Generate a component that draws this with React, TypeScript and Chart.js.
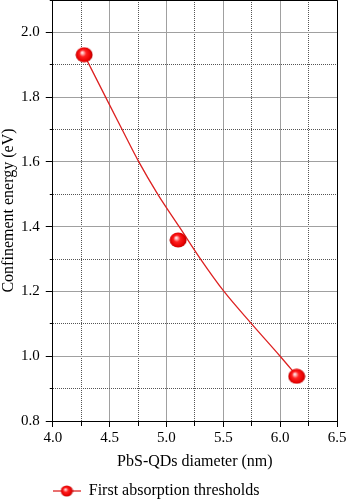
import React, { useEffect, useRef } from 'react';
import { Chart, registerables } from 'chart.js';

Chart.register(...registerables);

// ---- data ----
const diameters = [4.276, 5.103, 6.145];
const energies = [1.931, 1.359, 0.938];

// points of the drawn fit curve
const fitDiameters = [4.276, 4.465, 4.61, 4.757, 4.924, 5.112, 5.3, 5.506, 5.749, 6.0, 6.145];
const fitEnergies = [1.931, 1.8, 1.7, 1.6, 1.5, 1.4, 1.3, 1.2, 1.1, 1.0, 0.94];

const seriesLabel = 'First absorption thresholds';
const xTitle = 'PbS-QDs diameter (nm)';
const yTitle = 'Confinement energy (eV)';

const xRange = [4.0, 6.5];
const xStep = 0.25;
const yRange = [0.8, 2.1];
const yStep = 0.1;

const FONT = "'Liberation Serif', 'DejaVu Serif', serif";
const LINE_RED = '#dd2222';

function makeSphere(w: number, h: number): HTMLCanvasElement {
  const c = document.createElement('canvas');
  c.width = w;
  c.height = h;
  const g = c.getContext('2d')!;
  const cx = w / 2;
  const cy = h / 2;
  const rx = w / 2 - 0.5;
  const ry = h / 2 - 0.5;
  const grad = g.createRadialGradient(cx - rx * 0.25, cy - ry * 0.3, 0, cx, cy, Math.max(rx, ry));
  grad.addColorStop(0, '#ffffff');
  grad.addColorStop(0.15, '#ffb4b4');
  grad.addColorStop(0.4, '#ff2020');
  grad.addColorStop(0.8, '#e80000');
  grad.addColorStop(1, '#b00000');
  g.fillStyle = grad;
  g.beginPath();
  g.ellipse(cx, cy, rx, ry, 0, 0, Math.PI * 2);
  g.fill();
  return c;
}

function makeLegendSymbol(): HTMLCanvasElement {
  const c = document.createElement('canvas');
  c.width = 28;
  c.height = 12;
  const g = c.getContext('2d')!;
  g.strokeStyle = LINE_RED;
  g.lineWidth = 1.3;
  g.beginPath();
  g.moveTo(0, 6);
  g.lineTo(28, 6);
  g.stroke();
  const s = makeSphere(13, 12);
  g.drawImage(s, 14 - 6.5, 0);
  return c;
}

const isMajorX = (v: number) => Math.abs(v * 2 - Math.round(v * 2)) < 1e-6;
const isMajorY = (v: number) => Math.round(v * 10) % 2 === 0;

const framePlugin = {
  id: 'frame',
  beforeDatasetsDraw(chart: any) {
    const { ctx, chartArea } = chart;
    const a = (p: number) => Math.round(p - 0.5) + 0.5;
    ctx.save();
    ctx.strokeStyle = '#000';
    ctx.lineWidth = 1;
    ctx.setLineDash([]);
    ctx.beginPath();
    ctx.moveTo(a(chartArea.left), a(chartArea.top));
    ctx.lineTo(a(chartArea.right), a(chartArea.top));
    ctx.lineTo(a(chartArea.right), a(chartArea.bottom));
    ctx.stroke();
    ctx.restore();
  },
};

const legendPlacePlugin = {
  id: 'legendPlace',
  afterLayout(chart: any) {
    const lg = chart.legend;
    if (!lg) return;
    const pad = lg.options.labels.padding || 0;
    const w = lg.right - lg.left;
    lg.left = chart.chartArea.left - pad;
    lg.right = lg.left + w;
    lg.top += 9;
    lg.bottom += 9;
  },
};

export default function App() {
  const ref = useRef<HTMLCanvasElement>(null);

  useEffect(() => {
    document.body.style.margin = '0';
    if (!ref.current) return;
    const sphere = makeSphere(18, 16);
    const legendImg = makeLegendSymbol();

    const chart = new Chart(ref.current, {
      type: 'scatter',
      data: {
        datasets: [
          {
            label: seriesLabel,
            data: diameters.map((x, i) => ({ x, y: energies[i] })),
            pointStyle: sphere as any,
            pointRadius: 8,
            showLine: false,
            order: 0,
          },
          {
            label: 'fit',
            data: fitDiameters.map((x, i) => ({ x, y: fitEnergies[i] })),
            showLine: true,
            borderColor: LINE_RED,
            backgroundColor: LINE_RED,
            borderWidth: 1.3,
            pointRadius: 0,
            pointHoverRadius: 0,
            cubicInterpolationMode: 'monotone',
            fill: false,
            order: 1,
          } as any,
        ],
      },
      plugins: [framePlugin, legendPlacePlugin],
      options: {
        animation: false,
        responsive: true,
        maintainAspectRatio: false,
        events: [],
        layout: { autoPadding: false, padding: { left: 0, right: 9, top: 0, bottom: 0 } },
        plugins: {
          tooltip: { enabled: false },
          legend: {
            position: 'bottom',
            align: 'start',
            labels: {
              usePointStyle: true,
              pointStyleWidth: 28,
              padding: 4,
              color: '#000',
              font: { family: FONT, size: 16, lineHeight: 1 },
              generateLabels: () => [
                {
                  text: seriesLabel,
                  pointStyle: legendImg as any,
                  fillStyle: LINE_RED,
                  strokeStyle: LINE_RED,
                  lineWidth: 0,
                  hidden: false,
                  datasetIndex: 0,
                  fontColor: '#000',
                } as any,
              ],
            },
          },
        },
        scales: {
          x: {
            type: 'linear',
            min: xRange[0],
            max: xRange[1],
            afterFit: (s: any) => {
              s.paddingRight = 0;
            },
            ticks: {
              stepSize: xStep,
              precision: 2,
              autoSkip: false,
              maxRotation: 0,
              padding: 4,
              color: '#000',
              font: { family: FONT, size: 15, lineHeight: 1 },
              callback: (v: any) => (isMajorX(Number(v)) ? Number(v).toFixed(1) : ''),
            },
            grid: {
              color: (c: any) => (c.tick && !isMajorX(c.tick.value) ? '#555555' : '#a0a0a0'),
              lineWidth: 1,
              tickLength: 6,
              tickColor: '#000',
              tickWidth: 1,
              tickBorderDash: (c: any) => (c.tick && !isMajorX(c.tick.value) ? [4, 10] : []),
            },
            border: {
              color: '#000',
              width: 1,
              dash: (c: any) => (c.tick && !isMajorX(c.tick.value) ? [1, 1] : []),
            },
            title: {
              display: true,
              text: xTitle,
              color: '#000',
              font: { family: FONT, size: 16, lineHeight: 1 },
              padding: { top: 4, bottom: 0 },
            },
          },
          y: {
            type: 'linear',
            min: yRange[0],
            max: yRange[1],
            afterFit: (s: any) => {
              s.paddingTop = 0;
              s.paddingBottom = 0;
            },
            ticks: {
              stepSize: yStep,
              precision: 2,
              autoSkip: false,
              padding: 6,
              color: '#000',
              font: { family: FONT, size: 15, lineHeight: 1 },
              callback: (v: any) => (isMajorY(Number(v)) ? Number(v).toFixed(1) : ''),
            },
            grid: {
              color: (c: any) => (c.tick && !isMajorY(c.tick.value) ? '#555555' : '#a0a0a0'),
              lineWidth: 1,
              tickLength: 7,
              tickColor: '#000',
              tickWidth: 1,
              tickBorderDash: (c: any) => (c.tick && !isMajorY(c.tick.value) ? [3, 4] : []),
              tickBorderDashOffset: (c: any) => (c.tick && !isMajorY(c.tick.value) ? 3 : 0),
            },
            border: {
              color: '#000',
              width: 1,
              dash: (c: any) => (c.tick && !isMajorY(c.tick.value) ? [1, 1] : []),
            },
            title: {
              display: true,
              text: yTitle,
              color: '#000',
              font: { family: FONT, size: 16, lineHeight: 1 },
              padding: { top: 1, bottom: -2 },
            },
          },
        },
      } as any,
    });

    return () => chart.destroy();
  }, []);

  return (
    <div style={{ position: 'fixed', left: 0, top: 0, width: 346, height: 500 }}>
      <canvas ref={ref} />
    </div>
  );
}
